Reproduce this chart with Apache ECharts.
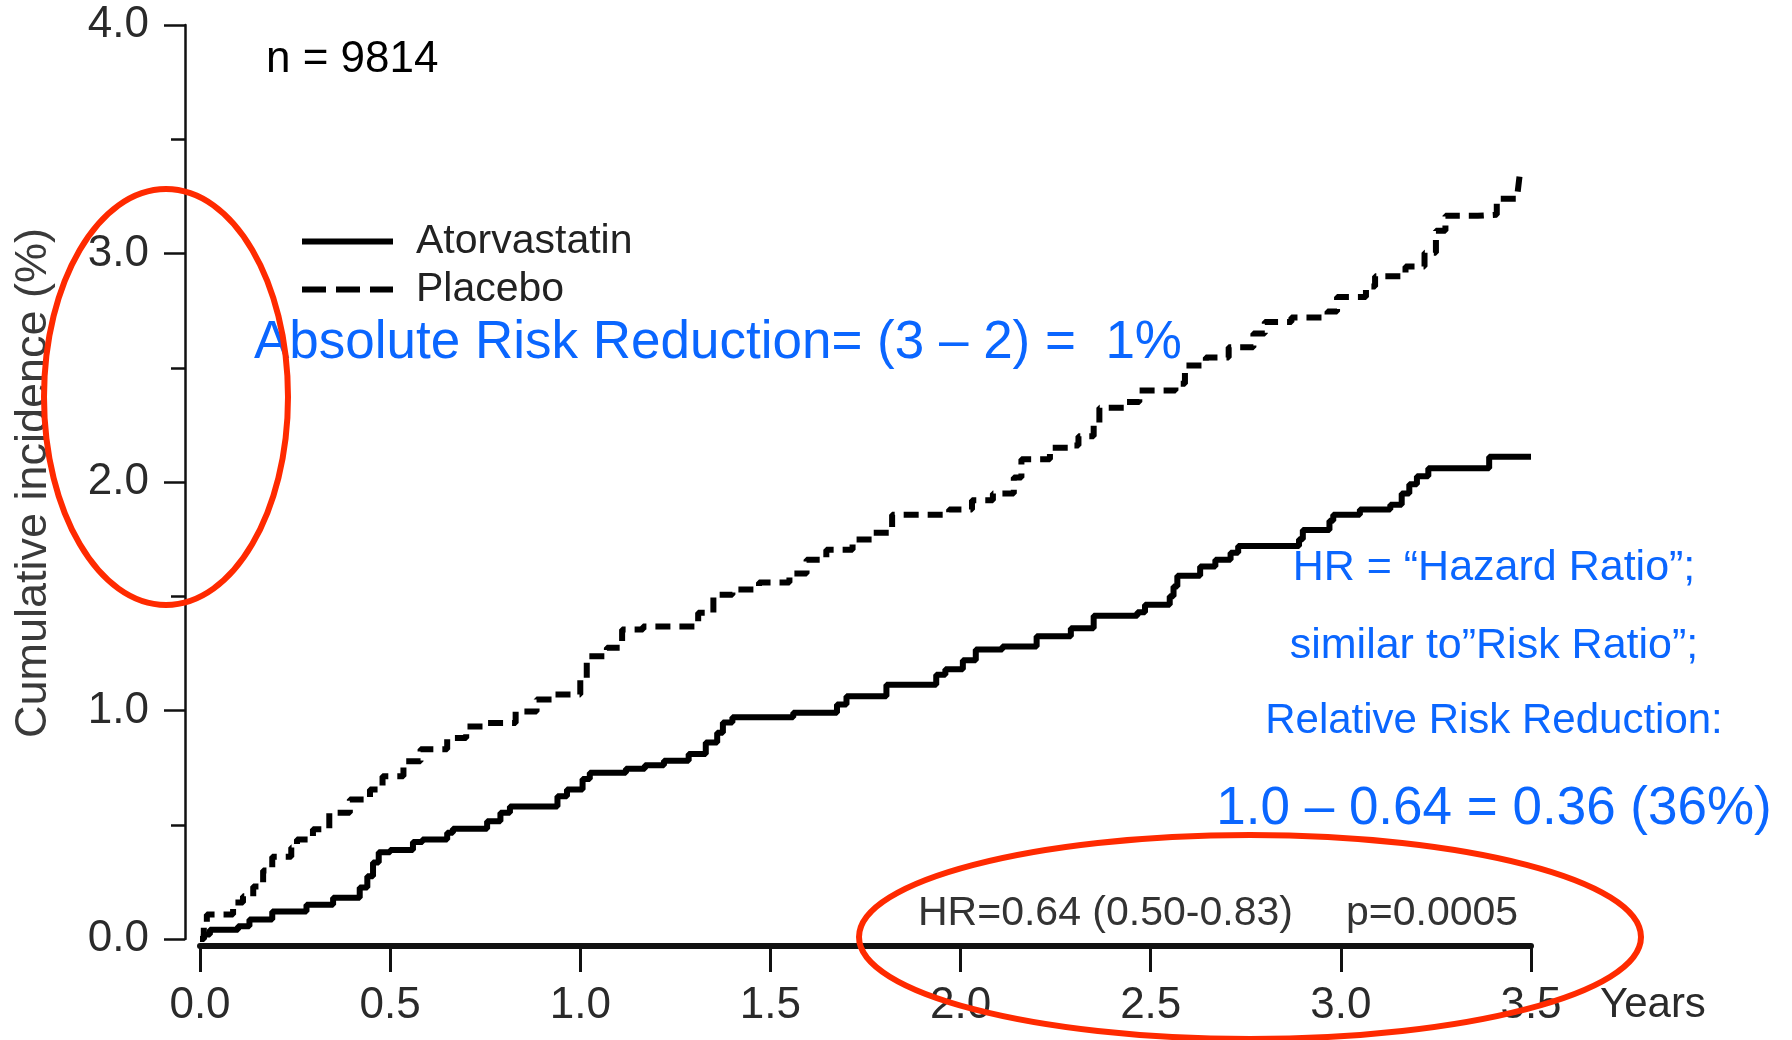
<!DOCTYPE html>
<html>
<head>
<meta charset="utf-8">
<script src="https://cdn.jsdelivr.net/npm/echarts@6/dist/echarts.min.js"></script>
<style>
html,body{margin:0;padding:0;background:#fff;}
#chart{width:1792px;height:1040px;}
</style>
</head>
<body>
<div id="chart"></div>
<script>
// ---- data (years, cumulative incidence %) ----
const atorvaYears = [0.0,0.01,0.026,0.10,0.13,0.19,0.28,0.35,0.42,0.44,0.455,0.47,0.50,0.56,0.585,0.65,0.665,0.755,0.79,0.815,0.94,0.965,1.006,1.025,1.12,1.17,1.22,1.285,1.33,1.36,1.375,1.40,1.56,1.675,1.70,1.805,1.936,1.96,2.006,2.04,2.11,2.20,2.29,2.35,2.465,2.485,2.55,2.56,2.57,2.63,2.67,2.71,2.73,2.89,2.90,2.97,2.98,3.05,3.13,3.16,3.18,3.20,3.23,3.39,3.50];
const atorvaValues = [0.0,0.02,0.04,0.056,0.085,0.12,0.15,0.18,0.225,0.275,0.335,0.38,0.39,0.425,0.435,0.465,0.483,0.515,0.553,0.58,0.625,0.654,0.70,0.728,0.745,0.76,0.78,0.81,0.86,0.903,0.947,0.97,0.99,1.026,1.062,1.113,1.157,1.18,1.22,1.267,1.28,1.325,1.36,1.415,1.43,1.463,1.50,1.543,1.59,1.63,1.66,1.69,1.72,1.75,1.79,1.83,1.857,1.88,1.90,1.95,1.99,2.025,2.06,2.11,2.11];
const placeboYears = [0.0,0.01,0.018,0.087,0.113,0.14,0.166,0.19,0.24,0.255,0.297,0.34,0.394,0.447,0.48,0.535,0.58,0.65,0.70,0.755,0.83,0.885,0.93,1.0,1.017,1.07,1.11,1.165,1.31,1.35,1.40,1.47,1.55,1.595,1.647,1.716,1.77,1.82,1.97,2.03,2.085,2.14,2.16,2.235,2.295,2.31,2.35,2.365,2.435,2.47,2.565,2.59,2.645,2.705,2.77,2.80,2.87,2.965,2.99,3.066,3.09,3.17,3.22,3.25,3.275,3.36,3.41,3.465,3.47];
const placeboValues = [0.0,0.06,0.107,0.16,0.187,0.23,0.30,0.36,0.40,0.435,0.48,0.553,0.61,0.654,0.712,0.778,0.83,0.88,0.93,0.945,0.996,1.048,1.07,1.135,1.237,1.275,1.354,1.368,1.428,1.507,1.53,1.56,1.60,1.66,1.704,1.748,1.778,1.857,1.88,1.92,1.95,2.02,2.10,2.15,2.16,2.20,2.26,2.325,2.35,2.40,2.43,2.51,2.545,2.59,2.65,2.70,2.72,2.746,2.81,2.856,2.90,2.943,3.003,3.10,3.165,3.17,3.24,3.27,3.34];
const seriesNames = ['Atorvastatin','Placebo'];
const xTicks = [0,0.5,1.0,1.5,2.0,2.5,3.0,3.5];
const yTicks = [0,1,2,3,4];

const zip = (xs, ys) => xs.map((x, i) => [x, ys[i]]);
const chart = echarts.init(document.getElementById('chart'));
const FONT = '"Liberation Sans", Arial, Helvetica, sans-serif';
const BLUE = '#0a66ff';
const RED = '#ff2a00';

chart.setOption({
  backgroundColor: '#ffffff',
  animation: false,
  textStyle: { fontFamily: FONT },
  grid: { left: 200, right: 261, top: 25, bottom: 101, containLabel: false },
  legend: {
    orient: 'vertical', left: 297, top: 216, itemWidth: 91, itemHeight: 6, itemGap: 7,
    data: [
      { name: seriesNames[0], icon: 'path://M0,0h91v6h-91z' },
      { name: seriesNames[1], icon: 'path://M0,0h24v6h-24zM34,0h24v6h-24zM68,0h23v6h-23z' }
    ],
    itemStyle: { color: '#000' },
    textStyle: { fontSize: 41, color: '#222', lineHeight: 40, padding: [0, 0, 0, 18], fontFamily: FONT }
  },
  xAxis: {
    type: 'value', min: 0, max: 3.5, interval: 0.5, offset: 7,
    axisLine: { show: true, onZero: false, lineStyle: { color: '#111', width: 6 } },
    axisTick: { show: true, length: 26, lineStyle: { color: '#111', width: 3 } },
    axisLabel: { margin: 38, fontSize: 44, color: '#2a2a2a', fontFamily: FONT,
      formatter: v => xTicks.includes(v) ? v.toFixed(1) : '' },
    splitLine: { show: false }
  },
  yAxis: {
    type: 'value', min: 0, max: 4, interval: 1, offset: 15,
    axisLine: { show: true, onZero: false, lineStyle: { color: '#111', width: 2.5 } },
    axisTick: { show: true, length: 21, lineStyle: { color: '#111', width: 2.5 } },
    minorTick: { show: true, splitNumber: 2, length: 14, lineStyle: { color: '#111', width: 2.5 } },
    axisLabel: { margin: 36, fontSize: 44, color: '#2a2a2a', fontFamily: FONT,
      formatter: v => yTicks.includes(v) ? v.toFixed(1) : '' },
    splitLine: { show: false }
  },
  series: [
    { name: seriesNames[0], type: 'line', step: 'end', symbol: 'none', showSymbol: false,
      data: zip(atorvaYears, atorvaValues),
      lineStyle: { color: '#000', width: 6 }, itemStyle: { color: '#000' } },
    { name: seriesNames[1], type: 'line', step: 'end', symbol: 'none', showSymbol: false,
      data: zip(placeboYears, placeboValues),
      lineStyle: { color: '#000', width: 6, type: [15, 9] }, itemStyle: { color: '#000' } }
  ],
  graphic: [
    { type: 'text', left: 266, top: 38, style: { text: 'n = 9814', fontSize: 44, fill: '#000', fontFamily: FONT } },
    { type: 'text', x: 34, y: 483, rotation: Math.PI / 2,
      style: { text: 'Cumulative incidence (%)', fontSize: 45, fill: '#3a3a3a', fontFamily: FONT, align: 'center', verticalAlign: 'middle' } },
    { type: 'text', x: 1600, y: 1005,
      style: { text: 'Years', fontSize: 42, fill: '#2a2a2a', fontFamily: FONT, align: 'left', verticalAlign: 'middle' } },
    { type: 'text', x: 254, y: 343,
      style: { text: 'Absolute Risk Reduction= (3 \u2013 2) =  1%', fontSize: 53, fill: BLUE, fontFamily: FONT, align: 'left', verticalAlign: 'middle' } },
    { type: 'text', x: 1494, y: 568,
      style: { text: 'HR = \u201cHazard Ratio\u201d;', fontSize: 43, fill: BLUE, fontFamily: FONT, align: 'center', verticalAlign: 'middle' } },
    { type: 'text', x: 1494, y: 646,
      style: { text: 'similar to\u201dRisk Ratio\u201d;', fontSize: 43, fill: BLUE, fontFamily: FONT, align: 'center', verticalAlign: 'middle' } },
    { type: 'text', x: 1494, y: 721,
      style: { text: 'Relative Risk Reduction:', fontSize: 42, fill: BLUE, fontFamily: FONT, align: 'center', verticalAlign: 'middle' } },
    { type: 'text', x: 1494, y: 809,
      style: { text: '1.0 \u2013 0.64 = 0.36 (36%)', fontSize: 53, fill: BLUE, fontFamily: FONT, align: 'center', verticalAlign: 'middle' } },
    { type: 'text', x: 918, y: 914,
      style: { text: 'HR=0.64 (0.50-0.83)', fontSize: 41, fill: '#333', fontFamily: FONT, align: 'left', verticalAlign: 'middle' } },
    { type: 'text', x: 1346, y: 914,
      style: { text: 'p=0.0005', fontSize: 41, fill: '#333', fontFamily: FONT, align: 'left', verticalAlign: 'middle' } },
    { type: 'ellipse', z: 100, shape: { cx: 166, cy: 397, rx: 122, ry: 208 },
      style: { fill: 'none', stroke: RED, lineWidth: 6 } },
    { type: 'ellipse', z: 100, shape: { cx: 1250, cy: 937, rx: 391, ry: 102 },
      style: { fill: 'none', stroke: RED, lineWidth: 6 } }
  ]
});
</script>
</body>
</html>
